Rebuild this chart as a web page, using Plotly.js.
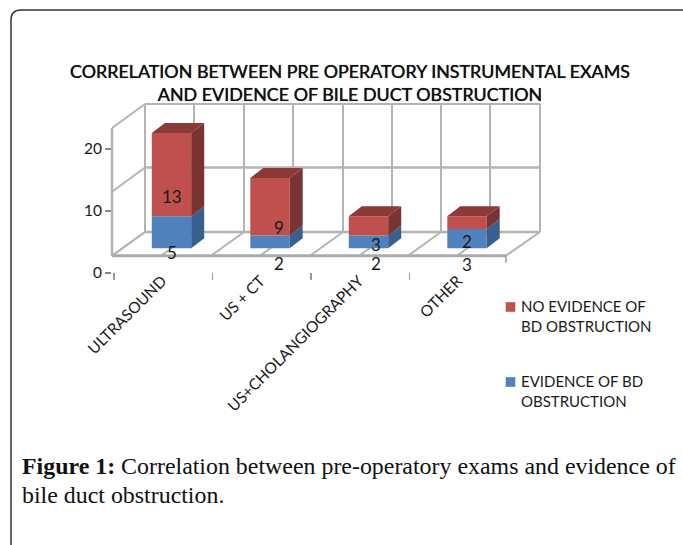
<!DOCTYPE html>
<html>
<head>
<meta charset="utf-8">
<script src="https://cdn.plot.ly/plotly-3.0.1.min.js"></script>
<style>html,body{margin:0;padding:0;background:#fff}#c{width:683px;height:545px}</style>
</head>
<body>
<div id="c"></div>
<script>
var categories = ['ULTRASOUND', 'US + CT', 'US+CHOLANGIOGRAPHY', 'OTHER'];
var evidence = [5, 2, 2, 3];
var noEvidence = [13, 9, 3, 2];
var yTicks = [0, 10, 20];
var nameNo = 'NO EVIDENCE OF<br>BD OBSTRUCTION';
var nameYes = 'EVIDENCE OF BD<br>OBSTRUCTION';
var titleText = 'CORRELATION BETWEEN PRE OPERATORY INSTRUMENTAL EXAMS<br>AND EVIDENCE OF BILE DUCT OBSTRUCTION';

var W = 683, H = 545;
var L = 112, R = 545, T = 100, B = 280;
var slotPx = 98.5, barCenter0 = 171.5, labelCenter0 = 163;
var unitPx = 6.4, basePx = 248.3, tickUnitPx = 6.2, tickZeroPx = 273;
var barW = 0.4, depthX = 13 / slotPx, depthY = 10 / unitPx;
var red = '#C0504D', blue = '#4F81BD', redSide = '#7B3331', redTop = '#8C3A38', blueSide = '#395F8F';
var wallColor = '#B4B4B4', textColor = '#1a1a1a', labelFont = 'Lato, sans-serif';

function px(x){ return x / W; }
function py(y){ return 1 - y / H; }
var xRange = [(L - barCenter0) / slotPx, (R - barCenter0) / slotPx];
var yRange = [(basePx - B) / unitPx, (basePx - T) / unitPx];
var x2Range = [(L - labelCenter0) / slotPx, (R - labelCenter0) / slotPx];
var y2Range = [(tickZeroPx - B) / tickUnitPx, (tickZeroPx - T) / tickUnitPx];

var idx = categories.map(function(_, i){ return i; });

function face(xs, ys, color){
  return {type:'scatter', mode:'lines', x:xs, y:ys, fill:'toself', fillcolor:color,
          line:{width:0, color:color}, hoverinfo:'skip', showlegend:false, xaxis:'x', yaxis:'y'};
}
var traces = [];
traces.push({type:'bar', name:nameYes, legendgroup:'yes', x:idx, y:evidence, width:barW, marker:{color:blue}, legendrank:2, xaxis:'x', yaxis:'y', hoverinfo:'y'});
traces.push({type:'bar', name:nameNo, legendgroup:'no', x:idx, y:noEvidence, width:barW, base:evidence, marker:{color:red}, legendrank:1, xaxis:'x', yaxis:'y', hoverinfo:'y'});
idx.forEach(function(i){
  var a = i + barW / 2, l = i - barW / 2, b = evidence[i], t = b + noEvidence[i];
  traces.push(face([a, a + depthX, a + depthX, a, a], [0, depthY, b + depthY, b, 0], blueSide));
  traces.push(face([a, a + depthX, a + depthX, a, a], [b, b + depthY, t + depthY, t, b], redSide));
  traces.push(face([l, a, a + depthX, l + depthX, l], [t, t, t + depthY, t + depthY, t], redTop));
});
traces.push({type:'scatter', mode:'none', x:[0], y:[0], xaxis:'x2', yaxis:'y2', showlegend:false, hoverinfo:'skip'});

// 3-D frame of the chart
var backX = [145, 194, 244, 293, 343, 392, 441, 490, 540];
var frontX = [112, 161, 211, 260, 310, 359, 408, 457, 506];
var backY = [104, 167.5, 232];
var sideY = [128, 191.7, 255.7];
function seg(x0, y0, x1, y1, color, width){
  return {type:'line', xref:'paper', yref:'paper', layer:'below', x0:px(x0), y0:py(y0), x1:px(x1), y1:py(y1),
          line:{color:color || wallColor, width:width || 2}};
}
var shapes = [];
backX.forEach(function(x, i){
  shapes.push(seg(x, backY[0], x, backY[2]));
  shapes.push(seg(x, backY[2], frontX[i], sideY[2]));
});
backY.forEach(function(y, i){
  shapes.push(seg(backX[0], y, backX[8], y, wallColor, i === 0 ? 2 : 2.5));
  shapes.push(seg(frontX[0], sideY[i], backX[0], y));
});
shapes.push(seg(frontX[0], sideY[0], frontX[0], sideY[2], wallColor, 2.5));
shapes.push(seg(frontX[0], sideY[2], frontX[8], sideY[2], '#ABABAB', 3));
shapes.push(seg(frontX[8], sideY[2], frontX[8], sideY[2] + 7, '#999', 1.5));
// rounded figure frame
shapes.push({type:'path', xref:'paper', yref:'paper', layer:'below',
  path:'M '+px(11)+' '+py(545)+' L '+px(11)+' '+py(20)+' Q '+px(11)+' '+py(10)+' '+px(21)+' '+py(10)+' L '+px(683)+' '+py(10),
  line:{color:'#333', width:1.5}});

// value labels as they sit in the picture
var noLabelX = [0.01, 1.09, 2.08, 3.0], noLabelY = [8.17, 3.2, 0.67, 1.0];
var yesLabelX = [0.0, 1.09, 2.08, 3.0], yesLabelY = [-0.6, -2.3, -2.3, -2.6];
function lab(v, x, y){
  return {text:String(v), x:x, y:y, xref:'x', yref:'y', showarrow:false, font:{family:labelFont, size:17, color:textColor}};
}
var annotations = [];
idx.forEach(function(i){
  annotations.push(lab(noEvidence[i], noLabelX[i], noLabelY[i]));
  annotations.push(lab(evidence[i], yesLabelX[i], yesLabelY[i]));
});
var serif = 'Liberation Serif, serif';
annotations.push({text:'<b>Figure 1:</b> Correlation between pre-operatory exams and evidence of', xref:'paper', yref:'paper',
  x:px(19.5), y:py(466), xanchor:'left', yanchor:'middle', showarrow:false, font:{family:serif, size:23.9, color:'#111'}});
annotations.push({text:'bile duct obstruction.', xref:'paper', yref:'paper',
  x:px(19.5), y:py(495), xanchor:'left', yanchor:'middle', showarrow:false, font:{family:serif, size:23.9, color:'#111'}});

var layout = {
  width:W, height:H, margin:{l:0, r:0, t:0, b:0, pad:0}, paper_bgcolor:'#fff', plot_bgcolor:'rgba(0,0,0,0)',
  barmode:'overlay', hovermode:false,
  title:{text:titleText, x:px(350), xanchor:'center', y:py(78), yanchor:'middle',
         font:{family:labelFont, size:17.9, color:'#111', shadow:'0 0 0.7px #111'}},
  xaxis:{domain:[px(L), px(R)], range:xRange, visible:false, fixedrange:true},
  yaxis:{domain:[py(B), py(T)], range:yRange, visible:false, fixedrange:true},
  xaxis2:{domain:[px(L), px(R)], range:x2Range, overlaying:'x', anchor:'y2', side:'bottom', showgrid:false, zeroline:false,
          showline:false, tickmode:'array', tickvals:idx.map(function(i){ return i - 0.01; }), ticktext:categories, tickangle:-45, ticks:'',
          ticklabelstandoff:-12, tickfont:{family:labelFont, size:15.5, color:textColor},
          minor:{tickmode:'array', tickvals:[-0.5, 0.5, 1.5, 2.5], ticks:'inside', ticklen:7, tickwidth:1.5, tickcolor:'#999', showgrid:false}},
  yaxis2:{domain:[py(B), py(T)], range:y2Range, overlaying:'y', anchor:'x2', side:'left', showgrid:false, zeroline:false,
          showline:false, tickmode:'array', tickvals:yTicks, ticks:'outside', ticklen:6, tickwidth:1.5, tickcolor:'#888',
          tickfont:{family:labelFont, size:15.5, color:textColor}},
  legend:{x:px(481), y:py(290), xanchor:'left', yanchor:'top', traceorder:'grouped', tracegroupgap:33, itemwidth:30,
          bgcolor:'rgba(0,0,0,0)', font:{family:labelFont, size:15, color:textColor}},
  shapes:shapes, annotations:annotations, showlegend:true
};
Plotly.newPlot('c', traces, layout, {displayModeBar:false, staticPlot:true}).then(function(gd){
  // swatches sit close to the text, level with the first line
  gd.querySelectorAll('.legend .legendsymbols').forEach(function(n){
    n.setAttribute('transform', 'translate(13.5,-9) scale(0.8)');
  });
});
</script>
</body>
</html>
